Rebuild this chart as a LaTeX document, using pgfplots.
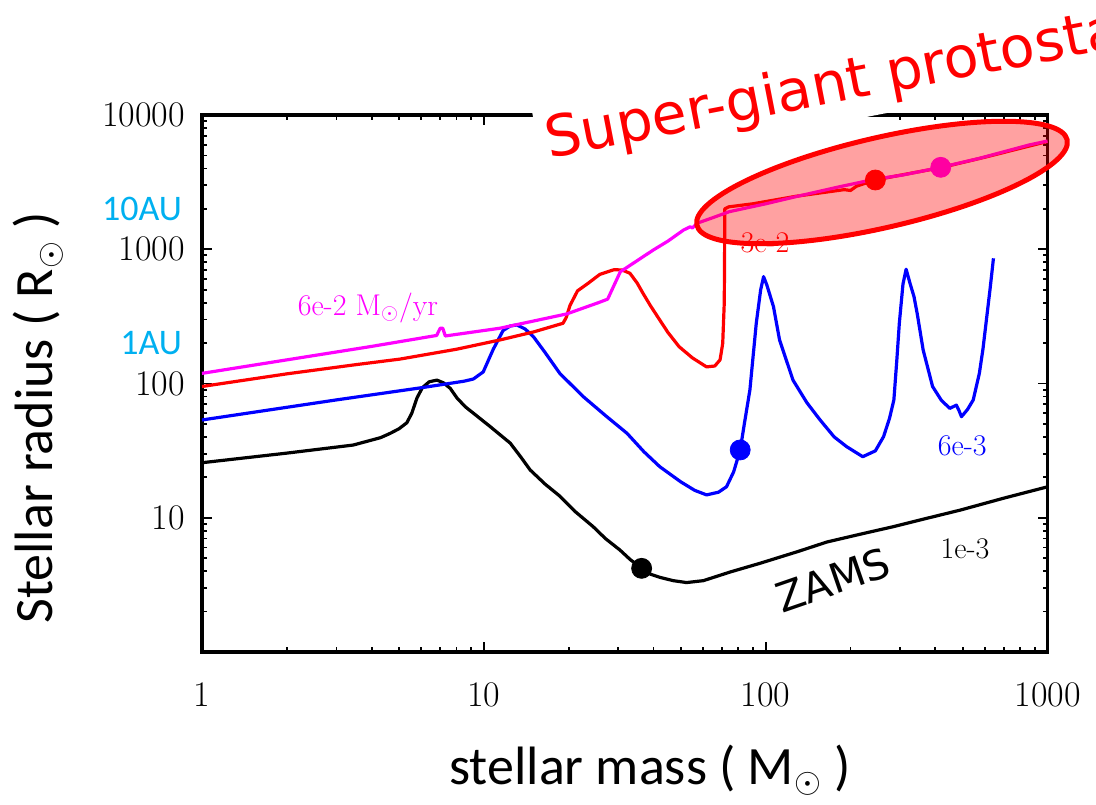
\documentclass[border=0pt]{standalone}
\usepackage{fontspec}
\usepackage{pgfplots}
\pgfplotsset{compat=1.18}
\newfontfamily\carlito{Carlito}
\newfontfamily\dejavu{DejaVu Sans}
\definecolor{aucyan}{RGB}{0,176,240}
\definecolor{mag}{RGB}{255,0,255}

\begin{document}
\begin{tikzpicture}[x=0.5pt,y=0.5pt]
\useasboundingbox (0,0) rectangle (1096,804);

\begin{axis}[
  at={(101pt,76pt)}, anchor=south west,
  scale only axis, width=422.75pt, height=268.5pt,
  xmode=log, ymode=log,
  xmin=1, xmax=1000, ymin=1, ymax=10000,
  xtick={1,10,100,1000}, xticklabels={1,10,100,1000},
  ytick={1,10,100,1000,10000}, yticklabels={,10,100,1000,10000},
  minor xtick={2,3,4,5,6,7,8,9,20,30,40,50,60,70,80,90,200,300,400,500,600,700,800,900},
  minor ytick={2,3,4,5,6,7,8,9,20,30,40,50,60,70,80,90,200,300,400,500,600,700,800,900,2000,3000,4000,5000,6000,7000,8000,9000},
  axis line style={line width=1.6pt},
  major tick length=5pt, minor tick length=2.5pt,
  every tick/.style={black, line width=0.9pt},
  tick label style={font=\fontsize{18}{18}\selectfont},
  xticklabel style={yshift=-12pt},
  yticklabel style={xshift=-5pt},
  clip=false,
]
% 1e-3 Msun/yr
\addplot[black, line width=1.6pt, line join=round] coordinates {
(1,25.7) (2,30.3) (3.44,34.8) (4.3,39.5) (4.65,42.5) (5.0,46) (5.33,51) (5.55,60)
(5.79,78) (6.05,93) (6.4,103) (6.82,106) (7.2,101) (7.6,92) (8.03,78) (8.6,67)
(9.19,60) (10.5,48) (11.5,41) (12.4,36) (13.5,28.5) (14.6,22.7) (16.5,17.8)
(18.6,14.5) (21,11.2) (24.4,8.6) (27,7.0) (30.4,5.75) (33,4.9) (36.3,4.2) (39,3.8)
(42.1,3.6) (47,3.4) (52.4,3.29) (60.1,3.40) (75,3.95) (95.5,4.58) (130,5.6)
(165,6.6) (220,7.6) (285,8.6) (380,10) (490,11.4) (700,14) (1000,17)
};
% 6e-3 Msun/yr
\addplot[blue, line width=1.6pt, line join=round] coordinates {
(1,53.5) (3,75.5) (6,93) (8.5,104) (9.18,108) (9.95,122) (10.8,180) (11.7,248)
(12.4,268) (13.1,273) (14,255) (15,223) (16.5,170) (18.6,119) (22.5,80) (27.2,57)
(32.2,42.6) (37,31) (42.1,24) (50,18.5) (56,16) (61.7,14.8) (68,15.5) (72.6,17)
(77,22) (81.2,32) (84,50) (87.9,89.5) (92.6,281) (96,500) (98.3,625) (101,540)
(106.6,373) (112,211) (125,106) (140,72) (156,53.5) (175,40) (194,33.8) (221,28.5)
(245,31.5) (262,40.2) (275,55) (285,75.4) (292,150) (298,281) (307,550) (315,710)
(325,560) (336,443) (345,330) (362,178) (391,95) (420,75) (450,65.3) (475,69)
(485,63) (495,56.6) (520,64) (545,75.4) (573,119) (590,180) (605,281) (625,500)
(643,856)
};
% 3e-2 Msun/yr
\addplot[red, line width=1.6pt, line join=round] coordinates {
(1,95) (2,118) (3.5,138) (5.04,152) (8,180) (11.4,211) (15,242) (19.1,281)
(19.6,310) (20.2,380) (21.5,490) (23.5,560) (25.8,650) (29,705) (31,700) (33,662)
(35,560) (36.7,470) (39,380) (42.1,297) (45,240) (49.3,188) (55,155) (61.7,133)
(66,135) (68.9,150) (70.4,199) (71.3,400) (71.5,1000) (71.6,2000) (74,2070)
(90,2180) (128,2480) (190,2780) (200,2740) (210,2950) (245,3280) (300,3560)
(418,4050) (600,4850) (1000,6350)
};
% 6e-2 Msun/yr
\addplot[mag, line width=1.6pt, line join=round] coordinates {
(1,119) (2,150) (4,189) (6.8,228) (7.0,258) (7.15,258) (7.3,226) (11.4,258)
(19.7,330) (25.5,400) (27.5,425) (28.5,500) (30.5,680) (34,790) (39.9,986)
(45,1150) (51.1,1390) (54,1470) (55,1440) (57,1560) (65,1720) (74.3,1905)
(100,2180) (128,2465) (180,2900) (245,3330) (306,3570) (418,4075) (573,4755)
(860,5980) (1000,6400)
};
\addplot[black, only marks, mark=*, mark size=5pt] coordinates {(36.3,4.2)};
\addplot[blue, only marks, mark=*, mark size=5pt] coordinates {(81.2,32)};
\addplot[red, only marks, mark=*, mark size=5pt] coordinates {(245,3280)};
\addplot[mag, only marks, mark=*, mark size=5pt] coordinates {(418,4075)};

\node[mag, font=\fontsize{15}{15}\selectfont] at (axis cs:3.88,365) {6e-2 M$_\odot$/yr};
\node[red, font=\fontsize{15}{15}\selectfont] at (axis cs:99.5,1113) {3e-2};
\node[blue, font=\fontsize{15}{15}\selectfont] at (axis cs:498,34.2) {6e-3};
\node[black, font=\fontsize{15}{15}\selectfont] at (axis cs:510,5.85) {1e-3};
\node[black, rotate=19, font=\dejavu\fontsize{20.5}{20.5}\selectfont] at (axis cs:173,3.44) {ZAMS};
\node[aucyan, anchor=east, xshift=-6.5pt, yshift=-2pt, font=\carlito\fontsize{18}{18}\selectfont] at (axis cs:1,2150) {10AU};
\node[aucyan, anchor=east, xshift=-6.5pt, yshift=-2pt, font=\carlito\fontsize{18}{18}\selectfont] at (axis cs:1,215) {1AU};
\end{axis}

% axis titles
\node[rotate=90, font=\carlito\fontsize{27}{27}\selectfont] at (38,386) {Stellar radius ( R$_\odot$ )};
\node[font=\carlito\fontsize{27}{27}\selectfont] at (650,34) {stellar mass ( M$_\odot$ )};

% annotation
\node[fill=white, inner sep=4pt, rotate=11, anchor=base west, text=red,
      font=\dejavu\fontsize{28.5}{28.5}\selectfont] at (541,644) {Super-giant protostar};
\draw[red, line width=2.5pt, fill=red, fill opacity=0.37, rotate around={13:(882,621.5)}]
  (882,621.5) ellipse [x radius=95pt, y radius=22.5pt];
\end{tikzpicture}
\end{document}
